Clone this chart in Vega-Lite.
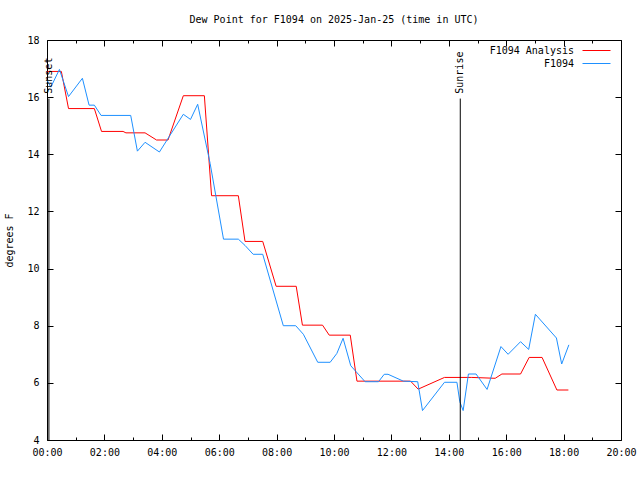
{
  "$schema": "https://vega.github.io/schema/vega-lite/v6.json",
  "width": 574,
  "height": 400,
  "autosize": {"type": "none"},
  "padding": {"left": 47, "top": 40, "right": 19, "bottom": 40},
  "background": "white",
  "title": {"text": "Dew Point for F1094 on 2025-Jan-25 (time in UTC)", "font": "DejaVu Sans Mono", "fontSize": 10, "fontWeight": "normal", "color": "black", "offset": 10, "anchor": "middle"},
  "config": {
    "view": {"stroke": "black", "strokeWidth": 1},
    "axis": {"domain": false, "grid": false, "labelFont": "DejaVu Sans Mono", "labelFontSize": 10, "labelColor": "black", "tickColor": "black", "titleFont": "DejaVu Sans Mono", "titleFontSize": 10, "titleFontWeight": "normal", "titleColor": "black"}
  },
  "datasets": {
    "obs": [
      {"series": "F1094 Analysis", "time": "2025-01-25T00:00:00Z", "value": 16.9},
      {"series": "F1094 Analysis", "time": "2025-01-25T00:30:00Z", "value": 16.9},
      {"series": "F1094 Analysis", "time": "2025-01-25T00:45:00Z", "value": 15.6},
      {"series": "F1094 Analysis", "time": "2025-01-25T01:39:00Z", "value": 15.6},
      {"series": "F1094 Analysis", "time": "2025-01-25T01:54:00Z", "value": 14.8},
      {"series": "F1094 Analysis", "time": "2025-01-25T02:39:00Z", "value": 14.8},
      {"series": "F1094 Analysis", "time": "2025-01-25T02:45:00Z", "value": 14.75},
      {"series": "F1094 Analysis", "time": "2025-01-25T03:25:00Z", "value": 14.75},
      {"series": "F1094 Analysis", "time": "2025-01-25T03:49:00Z", "value": 14.5},
      {"series": "F1094 Analysis", "time": "2025-01-25T04:13:00Z", "value": 14.5},
      {"series": "F1094 Analysis", "time": "2025-01-25T04:45:00Z", "value": 16.05},
      {"series": "F1094 Analysis", "time": "2025-01-25T05:29:00Z", "value": 16.05},
      {"series": "F1094 Analysis", "time": "2025-01-25T05:44:00Z", "value": 12.55},
      {"series": "F1094 Analysis", "time": "2025-01-25T06:40:00Z", "value": 12.55},
      {"series": "F1094 Analysis", "time": "2025-01-25T06:54:00Z", "value": 10.95},
      {"series": "F1094 Analysis", "time": "2025-01-25T07:31:00Z", "value": 10.95},
      {"series": "F1094 Analysis", "time": "2025-01-25T07:59:00Z", "value": 9.38},
      {"series": "F1094 Analysis", "time": "2025-01-25T08:41:00Z", "value": 9.38},
      {"series": "F1094 Analysis", "time": "2025-01-25T08:54:00Z", "value": 8.02},
      {"series": "F1094 Analysis", "time": "2025-01-25T09:36:00Z", "value": 8.02},
      {"series": "F1094 Analysis", "time": "2025-01-25T09:50:00Z", "value": 7.67},
      {"series": "F1094 Analysis", "time": "2025-01-25T10:34:00Z", "value": 7.67},
      {"series": "F1094 Analysis", "time": "2025-01-25T10:48:00Z", "value": 6.06},
      {"series": "F1094 Analysis", "time": "2025-01-25T12:40:00Z", "value": 6.06},
      {"series": "F1094 Analysis", "time": "2025-01-25T12:56:00Z", "value": 5.78},
      {"series": "F1094 Analysis", "time": "2025-01-25T13:51:00Z", "value": 6.19},
      {"series": "F1094 Analysis", "time": "2025-01-25T14:48:00Z", "value": 6.19},
      {"series": "F1094 Analysis", "time": "2025-01-25T15:37:00Z", "value": 6.16},
      {"series": "F1094 Analysis", "time": "2025-01-25T15:51:00Z", "value": 6.31},
      {"series": "F1094 Analysis", "time": "2025-01-25T16:30:00Z", "value": 6.31},
      {"series": "F1094 Analysis", "time": "2025-01-25T16:48:00Z", "value": 6.89},
      {"series": "F1094 Analysis", "time": "2025-01-25T17:15:00Z", "value": 6.89},
      {"series": "F1094 Analysis", "time": "2025-01-25T17:46:00Z", "value": 5.75},
      {"series": "F1094 Analysis", "time": "2025-01-25T18:10:00Z", "value": 5.75},
      {"series": "F1094", "time": "2025-01-25T00:00:00Z", "value": 16.6},
      {"series": "F1094", "time": "2025-01-25T00:08:00Z", "value": 16.35},
      {"series": "F1094", "time": "2025-01-25T00:26:00Z", "value": 16.97},
      {"series": "F1094", "time": "2025-01-25T00:45:00Z", "value": 16.02},
      {"series": "F1094", "time": "2025-01-25T01:14:00Z", "value": 16.66},
      {"series": "F1094", "time": "2025-01-25T01:28:00Z", "value": 15.72},
      {"series": "F1094", "time": "2025-01-25T01:39:00Z", "value": 15.72},
      {"series": "F1094", "time": "2025-01-25T01:53:00Z", "value": 15.36},
      {"series": "F1094", "time": "2025-01-25T02:55:00Z", "value": 15.36},
      {"series": "F1094", "time": "2025-01-25T03:09:00Z", "value": 14.11},
      {"series": "F1094", "time": "2025-01-25T03:25:00Z", "value": 14.42},
      {"series": "F1094", "time": "2025-01-25T03:55:00Z", "value": 14.08},
      {"series": "F1094", "time": "2025-01-25T04:45:00Z", "value": 15.4},
      {"series": "F1094", "time": "2025-01-25T05:00:00Z", "value": 15.22},
      {"series": "F1094", "time": "2025-01-25T05:15:00Z", "value": 15.75},
      {"series": "F1094", "time": "2025-01-25T05:41:00Z", "value": 13.68},
      {"series": "F1094", "time": "2025-01-25T06:09:00Z", "value": 11.03},
      {"series": "F1094", "time": "2025-01-25T06:40:00Z", "value": 11.03},
      {"series": "F1094", "time": "2025-01-25T06:54:00Z", "value": 10.81},
      {"series": "F1094", "time": "2025-01-25T07:11:00Z", "value": 10.5},
      {"series": "F1094", "time": "2025-01-25T07:31:00Z", "value": 10.5},
      {"series": "F1094", "time": "2025-01-25T08:14:00Z", "value": 8.0},
      {"series": "F1094", "time": "2025-01-25T08:40:00Z", "value": 8.0},
      {"series": "F1094", "time": "2025-01-25T08:56:00Z", "value": 7.7},
      {"series": "F1094", "time": "2025-01-25T09:26:00Z", "value": 6.72},
      {"series": "F1094", "time": "2025-01-25T09:52:00Z", "value": 6.72},
      {"series": "F1094", "time": "2025-01-25T10:06:00Z", "value": 7.03},
      {"series": "F1094", "time": "2025-01-25T10:19:00Z", "value": 7.56},
      {"series": "F1094", "time": "2025-01-25T10:35:00Z", "value": 6.6},
      {"series": "F1094", "time": "2025-01-25T11:05:00Z", "value": 6.04},
      {"series": "F1094", "time": "2025-01-25T11:33:00Z", "value": 6.04},
      {"series": "F1094", "time": "2025-01-25T11:45:00Z", "value": 6.3},
      {"series": "F1094", "time": "2025-01-25T11:53:00Z", "value": 6.3},
      {"series": "F1094", "time": "2025-01-25T12:25:00Z", "value": 6.06},
      {"series": "F1094", "time": "2025-01-25T12:55:00Z", "value": 6.04},
      {"series": "F1094", "time": "2025-01-25T13:05:00Z", "value": 5.03},
      {"series": "F1094", "time": "2025-01-25T13:51:00Z", "value": 6.02},
      {"series": "F1094", "time": "2025-01-25T14:17:00Z", "value": 6.02},
      {"series": "F1094", "time": "2025-01-25T14:23:00Z", "value": 5.34},
      {"series": "F1094", "time": "2025-01-25T14:30:00Z", "value": 5.03},
      {"series": "F1094", "time": "2025-01-25T14:41:00Z", "value": 6.31},
      {"series": "F1094", "time": "2025-01-25T14:57:00Z", "value": 6.31},
      {"series": "F1094", "time": "2025-01-25T15:20:00Z", "value": 5.77},
      {"series": "F1094", "time": "2025-01-25T15:49:00Z", "value": 7.27},
      {"series": "F1094", "time": "2025-01-25T16:04:00Z", "value": 7.0},
      {"series": "F1094", "time": "2025-01-25T16:30:00Z", "value": 7.44},
      {"series": "F1094", "time": "2025-01-25T16:47:00Z", "value": 7.17},
      {"series": "F1094", "time": "2025-01-25T17:01:00Z", "value": 8.4},
      {"series": "F1094", "time": "2025-01-25T17:45:00Z", "value": 7.57},
      {"series": "F1094", "time": "2025-01-25T17:56:00Z", "value": 6.66},
      {"series": "F1094", "time": "2025-01-25T18:11:00Z", "value": 7.33}
    ],
    "events": [
      {"event": "Sunset", "time": "2025-01-25T00:04:00Z"},
      {"event": "Sunrise", "time": "2025-01-25T14:24:00Z"}
    ]
  },
  "layer": [
    {
      "data": {"name": "obs"},
      "mark": {"type": "line", "strokeWidth": 1},
      "encoding": {
        "x": {
          "field": "time", "type": "temporal",
          "scale": {"type": "utc", "domain": [{"year": 2025, "month": 1, "date": 25, "hours": 0, "utc": true}, {"year": 2025, "month": 1, "date": 25, "hours": 20, "utc": true}]},
          "axis": {"orient": "bottom", "title": null, "tickCount": 20, "labelExpr": "utchours(datum.value) % 2 == 0 ? utcFormat(datum.value, '%H:%M') : ''", "tickSize": {"condition": {"test": "utchours(datum.value) % 2 == 0", "value": -6}, "value": -3}, "labelPadding": 13, "labelFlush": false, "labelOverlap": false}
        },
        "y": {
          "field": "value", "type": "quantitative",
          "scale": {"domain": [4, 18], "nice": false, "zero": false},
          "axis": {"title": "degrees F", "values": [4, 6, 8, 10, 12, 14, 16, 18], "tickSize": -6, "labelPadding": 14, "titlePadding": 12}
        },
        "color": {
          "field": "series", "type": "nominal",
          "scale": {"domain": ["F1094 Analysis", "F1094"], "range": ["#ff0000", "#1e90ff"]},
          "legend": {"orient": "none", "legendX": 544, "legendY": 5, "title": null, "symbolType": "M-2.8,0H2.8", "symbolSize": 100, "symbolStrokeWidth": 1, "labelAlign": "right", "labelOffset": -28, "labelFont": "DejaVu Sans Mono", "labelFontSize": 10, "labelColor": "black", "rowPadding": 2, "padding": 0}
        }
      }
    },
    {
      "data": {"name": "events"},
      "mark": {"type": "rule", "color": "black", "strokeWidth": 1},
      "encoding": {
        "x": {"field": "time", "type": "temporal", "axis": {"orient": "top", "title": null, "labels": false, "tickCount": 20, "tickSize": {"condition": {"test": "utchours(datum.value) % 2 == 0", "value": -6}, "value": -3}}},
        "y": {"datum": 4, "type": "quantitative", "axis": {"orient": "right", "title": null, "labels": false, "values": [4, 6, 8, 10, 12, 14, 16, 18], "tickSize": -6}},
        "y2": {"datum": 15.95}
      }
    },
    {
      "data": {"name": "events"},
      "mark": {"type": "text", "angle": 270, "align": "left", "baseline": "middle", "font": "DejaVu Sans Mono", "fontSize": 10, "color": "black"},
      "encoding": {
        "x": {"field": "time", "type": "temporal", "axis": null},
        "y": {"datum": 16.12, "type": "quantitative", "axis": null},
        "text": {"field": "event"}
      }
    }
  ],
  "resolve": {"axis": {"x": "independent", "y": "independent"}}
}
